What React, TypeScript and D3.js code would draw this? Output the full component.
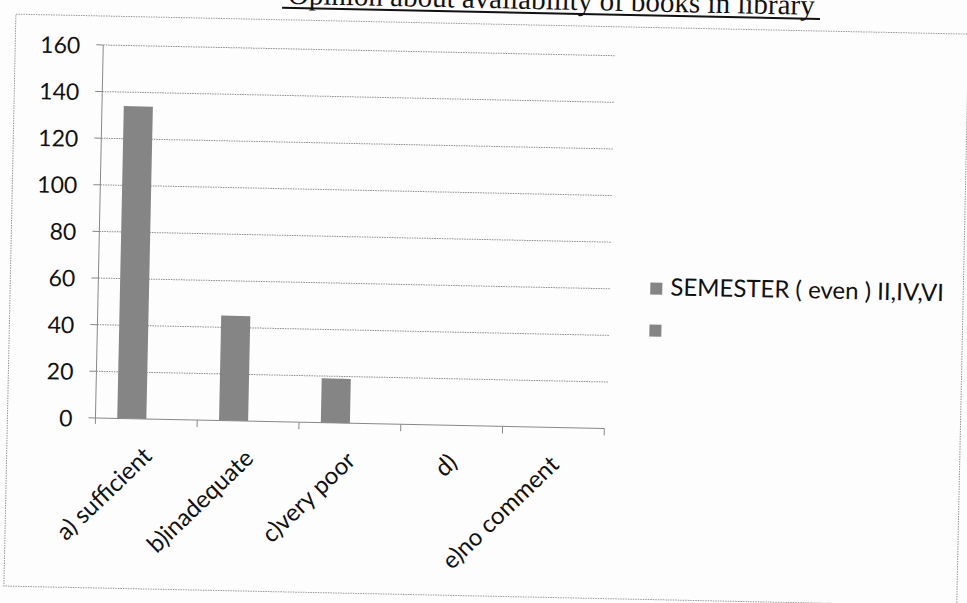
import React from "react";
import * as d3 from "d3";

const titleText = "Opinion about availability of books in library";
const categories = ["a) sufficient", "b)inadequate", "c)very poor", "d)", "e)no comment"];
const seriesNames = ["SEMESTER ( even ) II,IV,VI", ""];
const semesterEven = [134, 45, 19, 0, 0];
const semesterBlank = [0, 0, 0, 0, 0];
const yTicks = [0, 20, 40, 60, 80, 100, 120, 140, 160];

const FONT = "Lato, 'Open Sans', sans-serif";

export default function App() {
  const W = 967;
  const H = 603;
  const left = 98;
  const right = 607;
  const top = 53;
  const bottom = 426;

  const x = d3.scaleBand<string>().domain(categories).range([left, right]).padding(0);
  const inner = d3
    .scaleBand<string>()
    .domain(["s0", "s1"])
    .range([0, x.bandwidth()])
    .paddingInner(0)
    .paddingOuter(0.75);
  const y = d3.scaleLinear().domain([0, 160]).range([bottom, top]);

  const series = [semesterEven, semesterBlank];
  const barColor = "#858585";
  const gridColor = "#8c8c8c";

  const boundaries = categories.map((c) => (x(c) as number) + x.bandwidth());

  return (
    <div style={{ position: "fixed", left: 0, top: 0, width: W, height: H, background: "#fff" }}>
      <svg width={W} height={H} viewBox={`0 0 ${W} ${H}`} style={{ display: "block" }}>
        <rect x={0} y={0} width={W} height={H} fill="#fdfdfd" />
        <g transform="rotate(1.2 483 300)">
          {/* title (partly cut off at top, as in the scan) */}
          <text
            x={545}
            y={8}
            textAnchor="middle"
            fontFamily="'Liberation Serif', 'Times New Roman', serif"
            fontSize={29}
            fill="#111"
          >
            {titleText}
          </text>
          <line x1={276} x2={814} y1={12} y2={12} stroke="#111" strokeWidth={2} />

          {/* chart frame */}
          <rect
            x={10}
            y={24}
            width={953}
            height={572}
            fill="none"
            stroke="#999"
            strokeWidth={1}
            strokeDasharray="1.5,1"
          />

          {/* gridlines, ticks, tick labels */}
          {yTicks.map((t) => (
            <g key={t}>
              {t > 0 && (
                <line
                  x1={left}
                  x2={right + 3}
                  y1={y(t)}
                  y2={y(t)}
                  stroke={gridColor}
                  strokeWidth={1}
                  strokeDasharray="1.5,1"
                />
              )}
              <line x1={left - 7} x2={left} y1={y(t)} y2={y(t)} stroke="#888" strokeWidth={1} />
              <text
                x={75}
                y={y(t)}
                textAnchor="end"
                dominantBaseline="central"
                fontFamily={FONT}
                fontSize={23}
                fill="#111"
              >
                {t}
              </text>
            </g>
          ))}

          {/* bars */}
          {series.map((vals, si) =>
            vals.map((v, i) =>
              v > 0 ? (
                <rect
                  key={`${si}-${i}`}
                  x={(x(categories[i]) as number) + (inner(si === 0 ? "s0" : "s1") as number)}
                  y={y(v)}
                  width={inner.bandwidth()}
                  height={y(0) - y(v)}
                  fill={barColor}
                />
              ) : null
            )
          )}

          {/* axes */}
          <line x1={left} x2={left} y1={top} y2={bottom + 6} stroke="#888" strokeWidth={1} />
          <line x1={left} x2={right} y1={bottom} y2={bottom} stroke="#888" strokeWidth={1} />
          {boundaries.map((b, i) => (
            <line key={i} x1={b} x2={b} y1={bottom} y2={bottom + 7} stroke="#888" strokeWidth={1} />
          ))}

          {/* category labels */}
          {categories.map((c) => {
            const cx = (x(c) as number) + x.bandwidth() / 2 + 1;
            const cy = bottom + 32;
            return (
              <text
                key={c}
                x={cx}
                y={cy}
                transform={`rotate(-45 ${cx} ${cy})`}
                textAnchor="end"
                dominantBaseline="central"
                fontFamily={FONT}
                fontSize={24}
                fill="#111"
              >
                {c}
              </text>
            );
          })}

          {/* legend */}
          {seriesNames.map((n, i) => (
            <g key={i} transform={`translate(650, ${279 + i * 42})`}>
              <rect x={0} y={0} width={12} height={12} fill={barColor} />
              <text
                x={20}
                y={3}
                dominantBaseline="central"
                fontFamily={FONT}
                fontSize={24}
                fill="#111"
              >
                {n}
              </text>
            </g>
          ))}
        </g>
      </svg>
    </div>
  );
}
